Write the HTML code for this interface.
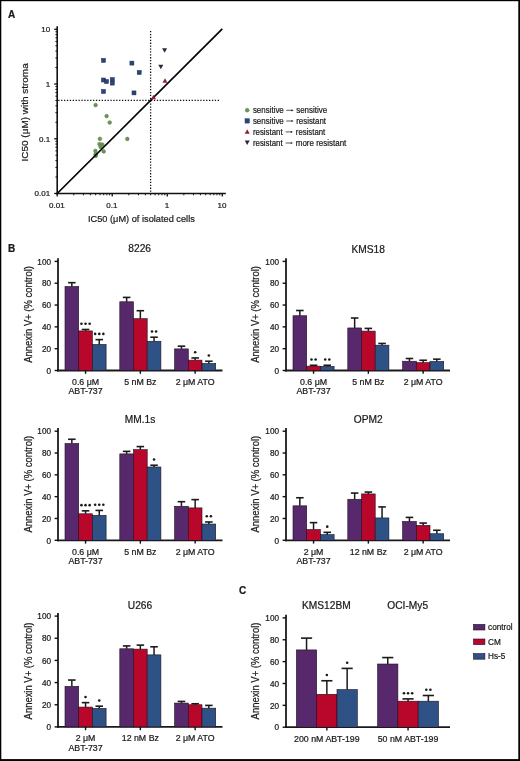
<!DOCTYPE html>
<html><head><meta charset="utf-8"><style>
html,body{margin:0;padding:0;background:#fff;}
#f{position:relative;width:520px;height:761px;overflow:hidden;background:#fff;}
#f svg{position:absolute;left:0;top:0;will-change:transform;}
#f svg text{font-family:"Liberation Sans", sans-serif;stroke:#1a1a1a;stroke-width:0.22px;}
</style></head><body>
<div id="f">
<svg width="520" height="761" viewBox="0 0 520 761">
<text x="7.9" y="17.5" font-size="10" font-weight="bold" fill="#1a1a1a">A</text>
<line x1="57.20" y1="26.30" x2="57.20" y2="194.50" stroke="#111" stroke-width="1.6"/>
<line x1="56.20" y1="193.50" x2="225.80" y2="193.50" stroke="#111" stroke-width="1.6"/>
<line x1="54.20" y1="193.50" x2="57.20" y2="193.50" stroke="#111" stroke-width="1.3"/>
<line x1="57.20" y1="193.50" x2="57.20" y2="196.50" stroke="#111" stroke-width="1.3"/>
<line x1="55.40" y1="177.02" x2="57.20" y2="177.02" stroke="#111" stroke-width="1.0"/>
<line x1="73.77" y1="193.50" x2="73.77" y2="195.30" stroke="#111" stroke-width="1.0"/>
<line x1="55.40" y1="167.39" x2="57.20" y2="167.39" stroke="#111" stroke-width="1.0"/>
<line x1="83.46" y1="193.50" x2="83.46" y2="195.30" stroke="#111" stroke-width="1.0"/>
<line x1="55.40" y1="160.55" x2="57.20" y2="160.55" stroke="#111" stroke-width="1.0"/>
<line x1="90.33" y1="193.50" x2="90.33" y2="195.30" stroke="#111" stroke-width="1.0"/>
<line x1="55.40" y1="155.25" x2="57.20" y2="155.25" stroke="#111" stroke-width="1.0"/>
<line x1="95.66" y1="193.50" x2="95.66" y2="195.30" stroke="#111" stroke-width="1.0"/>
<line x1="55.40" y1="150.91" x2="57.20" y2="150.91" stroke="#111" stroke-width="1.0"/>
<line x1="100.02" y1="193.50" x2="100.02" y2="195.30" stroke="#111" stroke-width="1.0"/>
<line x1="55.40" y1="147.25" x2="57.20" y2="147.25" stroke="#111" stroke-width="1.0"/>
<line x1="103.71" y1="193.50" x2="103.71" y2="195.30" stroke="#111" stroke-width="1.0"/>
<line x1="55.40" y1="144.07" x2="57.20" y2="144.07" stroke="#111" stroke-width="1.0"/>
<line x1="106.90" y1="193.50" x2="106.90" y2="195.30" stroke="#111" stroke-width="1.0"/>
<line x1="55.40" y1="141.27" x2="57.20" y2="141.27" stroke="#111" stroke-width="1.0"/>
<line x1="109.71" y1="193.50" x2="109.71" y2="195.30" stroke="#111" stroke-width="1.0"/>
<line x1="54.20" y1="138.77" x2="57.20" y2="138.77" stroke="#111" stroke-width="1.3"/>
<line x1="112.23" y1="193.50" x2="112.23" y2="196.50" stroke="#111" stroke-width="1.3"/>
<line x1="55.40" y1="122.29" x2="57.20" y2="122.29" stroke="#111" stroke-width="1.0"/>
<line x1="128.80" y1="193.50" x2="128.80" y2="195.30" stroke="#111" stroke-width="1.0"/>
<line x1="55.40" y1="112.66" x2="57.20" y2="112.66" stroke="#111" stroke-width="1.0"/>
<line x1="138.49" y1="193.50" x2="138.49" y2="195.30" stroke="#111" stroke-width="1.0"/>
<line x1="55.40" y1="105.82" x2="57.20" y2="105.82" stroke="#111" stroke-width="1.0"/>
<line x1="145.36" y1="193.50" x2="145.36" y2="195.30" stroke="#111" stroke-width="1.0"/>
<line x1="55.40" y1="100.52" x2="57.20" y2="100.52" stroke="#111" stroke-width="1.0"/>
<line x1="150.69" y1="193.50" x2="150.69" y2="195.30" stroke="#111" stroke-width="1.0"/>
<line x1="55.40" y1="96.18" x2="57.20" y2="96.18" stroke="#111" stroke-width="1.0"/>
<line x1="155.05" y1="193.50" x2="155.05" y2="195.30" stroke="#111" stroke-width="1.0"/>
<line x1="55.40" y1="92.52" x2="57.20" y2="92.52" stroke="#111" stroke-width="1.0"/>
<line x1="158.74" y1="193.50" x2="158.74" y2="195.30" stroke="#111" stroke-width="1.0"/>
<line x1="55.40" y1="89.34" x2="57.20" y2="89.34" stroke="#111" stroke-width="1.0"/>
<line x1="161.93" y1="193.50" x2="161.93" y2="195.30" stroke="#111" stroke-width="1.0"/>
<line x1="55.40" y1="86.54" x2="57.20" y2="86.54" stroke="#111" stroke-width="1.0"/>
<line x1="164.74" y1="193.50" x2="164.74" y2="195.30" stroke="#111" stroke-width="1.0"/>
<line x1="54.20" y1="84.04" x2="57.20" y2="84.04" stroke="#111" stroke-width="1.3"/>
<line x1="167.26" y1="193.50" x2="167.26" y2="196.50" stroke="#111" stroke-width="1.3"/>
<line x1="55.40" y1="67.56" x2="57.20" y2="67.56" stroke="#111" stroke-width="1.0"/>
<line x1="183.83" y1="193.50" x2="183.83" y2="195.30" stroke="#111" stroke-width="1.0"/>
<line x1="55.40" y1="57.93" x2="57.20" y2="57.93" stroke="#111" stroke-width="1.0"/>
<line x1="193.52" y1="193.50" x2="193.52" y2="195.30" stroke="#111" stroke-width="1.0"/>
<line x1="55.40" y1="51.09" x2="57.20" y2="51.09" stroke="#111" stroke-width="1.0"/>
<line x1="200.39" y1="193.50" x2="200.39" y2="195.30" stroke="#111" stroke-width="1.0"/>
<line x1="55.40" y1="45.79" x2="57.20" y2="45.79" stroke="#111" stroke-width="1.0"/>
<line x1="205.72" y1="193.50" x2="205.72" y2="195.30" stroke="#111" stroke-width="1.0"/>
<line x1="55.40" y1="41.45" x2="57.20" y2="41.45" stroke="#111" stroke-width="1.0"/>
<line x1="210.08" y1="193.50" x2="210.08" y2="195.30" stroke="#111" stroke-width="1.0"/>
<line x1="55.40" y1="37.79" x2="57.20" y2="37.79" stroke="#111" stroke-width="1.0"/>
<line x1="213.77" y1="193.50" x2="213.77" y2="195.30" stroke="#111" stroke-width="1.0"/>
<line x1="55.40" y1="34.61" x2="57.20" y2="34.61" stroke="#111" stroke-width="1.0"/>
<line x1="216.96" y1="193.50" x2="216.96" y2="195.30" stroke="#111" stroke-width="1.0"/>
<line x1="55.40" y1="31.81" x2="57.20" y2="31.81" stroke="#111" stroke-width="1.0"/>
<line x1="219.77" y1="193.50" x2="219.77" y2="195.30" stroke="#111" stroke-width="1.0"/>
<line x1="54.20" y1="29.31" x2="57.20" y2="29.31" stroke="#111" stroke-width="1.3"/>
<line x1="222.29" y1="193.50" x2="222.29" y2="196.50" stroke="#111" stroke-width="1.3"/>
<text x="50.1" y="196.4" font-size="8.0" text-anchor="end" fill="#1a1a1a">0.01</text>
<text x="56.900000000000006" y="207.6" font-size="8.0" text-anchor="middle" fill="#1a1a1a">0.01</text>
<text x="50.1" y="141.67000000000002" font-size="8.0" text-anchor="end" fill="#1a1a1a">0.1</text>
<text x="111.93" y="207.6" font-size="8.0" text-anchor="middle" fill="#1a1a1a">0.1</text>
<text x="50.1" y="86.94000000000001" font-size="8.0" text-anchor="end" fill="#1a1a1a">1</text>
<text x="166.95999999999998" y="207.6" font-size="8.0" text-anchor="middle" fill="#1a1a1a">1</text>
<text x="50.1" y="32.21" font-size="8.0" text-anchor="end" fill="#1a1a1a">10</text>
<text x="221.99" y="207.6" font-size="8.0" text-anchor="middle" fill="#1a1a1a">10</text>
<text transform="translate(28.0,112.4) rotate(-90)" x="0" y="0" font-size="9.6" text-anchor="middle" textLength="98.2" lengthAdjust="spacingAndGlyphs" fill="#1a1a1a">IC50 (μM) with stroma</text>
<text x="141.4" y="222.3" font-size="9.6" text-anchor="middle" textLength="106.8" lengthAdjust="spacingAndGlyphs" fill="#1a1a1a">IC50 (μM) of isolated cells</text>
<line x1="58.2" y1="100.3" x2="219" y2="100.3" stroke="#111" stroke-width="1.3" stroke-dasharray="1.3 1.6"/>
<line x1="150.6" y1="31" x2="150.6" y2="192.5" stroke="#111" stroke-width="1.3" stroke-dasharray="1.3 1.6"/>
<circle cx="95.60" cy="105.10" r="1.85" fill="#6c9753" stroke="#557a45" stroke-width="0.5"/>
<circle cx="106.60" cy="116.10" r="1.85" fill="#6c9753" stroke="#557a45" stroke-width="0.5"/>
<circle cx="109.70" cy="122.50" r="1.85" fill="#6c9753" stroke="#557a45" stroke-width="0.5"/>
<circle cx="99.90" cy="138.80" r="1.85" fill="#6c9753" stroke="#557a45" stroke-width="0.5"/>
<circle cx="127.30" cy="138.90" r="1.85" fill="#6c9753" stroke="#557a45" stroke-width="0.5"/>
<circle cx="99.50" cy="144.00" r="1.85" fill="#6c9753" stroke="#557a45" stroke-width="0.5"/>
<circle cx="102.30" cy="144.50" r="1.85" fill="#6c9753" stroke="#557a45" stroke-width="0.5"/>
<circle cx="100.50" cy="146.80" r="1.85" fill="#6c9753" stroke="#557a45" stroke-width="0.5"/>
<circle cx="103.70" cy="151.40" r="1.85" fill="#6c9753" stroke="#557a45" stroke-width="0.5"/>
<circle cx="95.40" cy="150.90" r="1.85" fill="#6c9753" stroke="#557a45" stroke-width="0.5"/>
<circle cx="95.60" cy="154.20" r="1.85" fill="#6c9753" stroke="#557a45" stroke-width="0.5"/>
<circle cx="95.80" cy="155.80" r="1.85" fill="#6c9753" stroke="#557a45" stroke-width="0.5"/>
<line x1="57.20" y1="193.50" x2="222.30" y2="28.80" stroke="#000" stroke-width="1.7"/>
<rect x="101.50" y="58.40" width="4.0" height="4.0" fill="#2a4578" stroke="#1f2d55" stroke-width="0.5"/>
<rect x="129.90" y="61.10" width="4.0" height="4.0" fill="#2a4578" stroke="#1f2d55" stroke-width="0.5"/>
<rect x="137.20" y="70.50" width="4.0" height="4.0" fill="#2a4578" stroke="#1f2d55" stroke-width="0.5"/>
<rect x="101.50" y="78.00" width="4.0" height="4.0" fill="#2a4578" stroke="#1f2d55" stroke-width="0.5"/>
<rect x="104.50" y="79.50" width="4.0" height="4.0" fill="#2a4578" stroke="#1f2d55" stroke-width="0.5"/>
<rect x="110.30" y="77.60" width="4.0" height="4.0" fill="#2a4578" stroke="#1f2d55" stroke-width="0.5"/>
<rect x="110.30" y="81.10" width="4.0" height="4.0" fill="#2a4578" stroke="#1f2d55" stroke-width="0.5"/>
<rect x="101.50" y="89.50" width="4.0" height="4.0" fill="#2a4578" stroke="#1f2d55" stroke-width="0.5"/>
<rect x="132.00" y="90.90" width="4.0" height="4.0" fill="#2a4578" stroke="#1f2d55" stroke-width="0.5"/>
<polygon points="162.10,48.25 167.10,48.25 164.60,52.75" fill="#32233f"/>
<polygon points="158.30,64.65 163.30,64.65 160.80,69.15" fill="#32233f"/>
<polygon points="162.50,82.65 167.50,82.65 165.00,78.15" fill="#921a3a"/>
<polygon points="151.00,99.25 156.00,99.25 153.50,94.75" fill="#921a3a"/>
<text x="252.9" y="112.8" font-size="8.7" textLength="30.9" lengthAdjust="spacingAndGlyphs" fill="#1a1a1a">sensitive</text>
<text x="296.2" y="112.8" font-size="8.7" textLength="30.9" lengthAdjust="spacingAndGlyphs" fill="#1a1a1a">sensitive</text>
<line x1="286.30" y1="110.30" x2="292.30" y2="110.30" stroke="#222" stroke-width="0.75"/>
<polygon points="291.50,109.20 293.60,110.30 291.50,111.40" fill="#222"/>
<text x="252.9" y="123.6" font-size="8.7" textLength="30.9" lengthAdjust="spacingAndGlyphs" fill="#1a1a1a">sensitive</text>
<text x="296.2" y="123.6" font-size="8.7" textLength="29.8" lengthAdjust="spacingAndGlyphs" fill="#1a1a1a">resistant</text>
<line x1="286.30" y1="121.00" x2="292.30" y2="121.00" stroke="#222" stroke-width="0.75"/>
<polygon points="291.50,119.90 293.60,121.00 291.50,122.10" fill="#222"/>
<text x="252.9" y="134.7" font-size="8.7" textLength="29.8" lengthAdjust="spacingAndGlyphs" fill="#1a1a1a">resistant</text>
<text x="295.8" y="134.7" font-size="8.7" textLength="29.4" lengthAdjust="spacingAndGlyphs" fill="#1a1a1a">resistant</text>
<line x1="285.60" y1="131.90" x2="291.60" y2="131.90" stroke="#222" stroke-width="0.75"/>
<polygon points="290.80,130.80 292.90,131.90 290.80,133.00" fill="#222"/>
<text x="252.9" y="145.7" font-size="8.7" textLength="29.8" lengthAdjust="spacingAndGlyphs" fill="#1a1a1a">resistant</text>
<text x="295.8" y="145.7" font-size="8.7" textLength="50.5" lengthAdjust="spacingAndGlyphs" fill="#1a1a1a">more resistant</text>
<line x1="285.60" y1="143.00" x2="291.60" y2="143.00" stroke="#222" stroke-width="0.75"/>
<polygon points="290.80,141.90 292.90,143.00 290.80,144.10" fill="#222"/>
<circle cx="247.20" cy="110.20" r="1.9" fill="#6c9753" stroke="#557a45" stroke-width="0.5"/>
<rect x="245.0" y="118.7" width="4.4" height="4.4" fill="#2a4578" stroke="#1f2d55" stroke-width="0.4"/>
<polygon points="244.70,133.85 249.70,133.85 247.20,129.35" fill="#921a3a"/>
<polygon points="244.70,140.45 249.70,140.45 247.20,144.95" fill="#32233f"/>
<text x="7.9" y="252.1" font-size="10" font-weight="bold" fill="#1a1a1a">B</text>
<text x="238.9" y="593.6" font-size="10" font-weight="bold" fill="#1a1a1a">C</text>
<line x1="58.00" y1="258.30" x2="58.00" y2="371.40" stroke="#1a1a1a" stroke-width="1.8"/>
<line x1="57.10" y1="370.50" x2="222.50" y2="370.50" stroke="#1a1a1a" stroke-width="1.8"/>
<line x1="54.60" y1="370.50" x2="58.00" y2="370.50" stroke="#111" stroke-width="1.4"/>
<text x="51.0" y="373.7" font-size="8.2" text-anchor="end" fill="#1a1a1a">0</text>
<line x1="54.60" y1="348.68" x2="58.00" y2="348.68" stroke="#111" stroke-width="1.4"/>
<text x="51.0" y="351.88" font-size="8.2" text-anchor="end" fill="#1a1a1a">20</text>
<line x1="54.60" y1="326.86" x2="58.00" y2="326.86" stroke="#111" stroke-width="1.4"/>
<text x="51.0" y="330.06" font-size="8.2" text-anchor="end" fill="#1a1a1a">40</text>
<line x1="54.60" y1="305.04" x2="58.00" y2="305.04" stroke="#111" stroke-width="1.4"/>
<text x="51.0" y="308.24" font-size="8.2" text-anchor="end" fill="#1a1a1a">60</text>
<line x1="54.60" y1="283.22" x2="58.00" y2="283.22" stroke="#111" stroke-width="1.4"/>
<text x="51.0" y="286.42" font-size="8.2" text-anchor="end" fill="#1a1a1a">80</text>
<line x1="54.60" y1="261.40" x2="58.00" y2="261.40" stroke="#111" stroke-width="1.4"/>
<text x="51.0" y="264.59999999999997" font-size="8.2" text-anchor="end" fill="#1a1a1a">100</text>
<rect x="65.00" y="286.49" width="13.70" height="84.01" fill="#57286b" stroke="#1c1020" stroke-width="0.6"/>
<line x1="71.85" y1="286.49" x2="71.85" y2="282.67" stroke="#1a1a1a" stroke-width="1.5"/>
<line x1="68.08" y1="282.67" x2="75.62" y2="282.67" stroke="#1a1a1a" stroke-width="1.6"/>
<rect x="78.70" y="330.90" width="13.70" height="39.60" fill="#b8072b" stroke="#1c1020" stroke-width="0.6"/>
<line x1="85.55" y1="330.90" x2="85.55" y2="329.48" stroke="#1a1a1a" stroke-width="1.5"/>
<line x1="81.78" y1="329.48" x2="89.32" y2="329.48" stroke="#1a1a1a" stroke-width="1.6"/>
<circle cx="81.45" cy="323.78" r="1.3" fill="#1a1a1a"/>
<circle cx="85.55" cy="323.78" r="1.3" fill="#1a1a1a"/>
<circle cx="89.65" cy="323.78" r="1.3" fill="#1a1a1a"/>
<rect x="92.40" y="344.43" width="13.70" height="26.07" fill="#2f5286" stroke="#1c1020" stroke-width="0.6"/>
<line x1="99.25" y1="344.43" x2="99.25" y2="339.62" stroke="#1a1a1a" stroke-width="1.5"/>
<line x1="95.48" y1="339.62" x2="103.02" y2="339.62" stroke="#1a1a1a" stroke-width="1.6"/>
<circle cx="95.15" cy="333.92" r="1.3" fill="#1a1a1a"/>
<circle cx="99.25" cy="333.92" r="1.3" fill="#1a1a1a"/>
<circle cx="103.35" cy="333.92" r="1.3" fill="#1a1a1a"/>
<line x1="85.55" y1="370.50" x2="85.55" y2="373.80" stroke="#111" stroke-width="1.4"/>
<rect x="119.80" y="301.77" width="13.70" height="68.73" fill="#57286b" stroke="#1c1020" stroke-width="0.6"/>
<line x1="126.65" y1="301.77" x2="126.65" y2="297.40" stroke="#1a1a1a" stroke-width="1.5"/>
<line x1="122.88" y1="297.40" x2="130.42" y2="297.40" stroke="#1a1a1a" stroke-width="1.6"/>
<rect x="133.50" y="318.68" width="13.70" height="51.82" fill="#b8072b" stroke="#1c1020" stroke-width="0.6"/>
<line x1="140.35" y1="318.68" x2="140.35" y2="310.71" stroke="#1a1a1a" stroke-width="1.5"/>
<line x1="136.58" y1="310.71" x2="144.12" y2="310.71" stroke="#1a1a1a" stroke-width="1.6"/>
<rect x="147.20" y="341.26" width="13.70" height="29.24" fill="#2f5286" stroke="#1c1020" stroke-width="0.6"/>
<line x1="154.05" y1="341.26" x2="154.05" y2="337.22" stroke="#1a1a1a" stroke-width="1.5"/>
<line x1="150.28" y1="337.22" x2="157.82" y2="337.22" stroke="#1a1a1a" stroke-width="1.6"/>
<circle cx="152.00" cy="331.52" r="1.3" fill="#1a1a1a"/>
<circle cx="156.10" cy="331.52" r="1.3" fill="#1a1a1a"/>
<line x1="140.35" y1="370.50" x2="140.35" y2="373.80" stroke="#111" stroke-width="1.4"/>
<rect x="174.60" y="348.90" width="13.70" height="21.60" fill="#57286b" stroke="#1c1020" stroke-width="0.6"/>
<line x1="181.45" y1="348.90" x2="181.45" y2="346.17" stroke="#1a1a1a" stroke-width="1.5"/>
<line x1="177.68" y1="346.17" x2="185.22" y2="346.17" stroke="#1a1a1a" stroke-width="1.6"/>
<rect x="188.30" y="360.14" width="13.70" height="10.36" fill="#b8072b" stroke="#1c1020" stroke-width="0.6"/>
<line x1="195.15" y1="360.14" x2="195.15" y2="357.95" stroke="#1a1a1a" stroke-width="1.5"/>
<line x1="191.38" y1="357.95" x2="198.92" y2="357.95" stroke="#1a1a1a" stroke-width="1.6"/>
<circle cx="195.15" cy="352.25" r="1.3" fill="#1a1a1a"/>
<rect x="202.00" y="363.41" width="13.70" height="7.09" fill="#2f5286" stroke="#1c1020" stroke-width="0.6"/>
<line x1="208.85" y1="363.41" x2="208.85" y2="361.23" stroke="#1a1a1a" stroke-width="1.5"/>
<line x1="205.08" y1="361.23" x2="212.62" y2="361.23" stroke="#1a1a1a" stroke-width="1.6"/>
<circle cx="208.85" cy="355.53" r="1.3" fill="#1a1a1a"/>
<line x1="195.15" y1="370.50" x2="195.15" y2="373.80" stroke="#111" stroke-width="1.4"/>
<text x="85.55" y="384.8" font-size="8.8" text-anchor="middle" fill="#1a1a1a">0.6 μM</text>
<text x="85.55" y="394.4" font-size="8.8" text-anchor="middle" fill="#1a1a1a">ABT-737</text>
<text x="140.35" y="384.8" font-size="8.8" text-anchor="middle" fill="#1a1a1a">5 nM Bz</text>
<text x="195.14999999999998" y="384.8" font-size="8.8" text-anchor="middle" fill="#1a1a1a">2 μM ATO</text>
<text x="139.7" y="252.4" font-size="10.2" text-anchor="middle" fill="#1a1a1a">8226</text>
<text transform="translate(32.1,314.4) rotate(-90)" x="0" y="0" font-size="10.2" text-anchor="middle" textLength="96.8" lengthAdjust="spacingAndGlyphs" fill="#1a1a1a">Annexin V+ (% control)</text>
<line x1="286.00" y1="258.30" x2="286.00" y2="371.40" stroke="#1a1a1a" stroke-width="1.8"/>
<line x1="285.10" y1="370.50" x2="450.00" y2="370.50" stroke="#1a1a1a" stroke-width="1.8"/>
<line x1="282.60" y1="370.50" x2="286.00" y2="370.50" stroke="#111" stroke-width="1.4"/>
<text x="279.0" y="373.7" font-size="8.2" text-anchor="end" fill="#1a1a1a">0</text>
<line x1="282.60" y1="348.68" x2="286.00" y2="348.68" stroke="#111" stroke-width="1.4"/>
<text x="279.0" y="351.88" font-size="8.2" text-anchor="end" fill="#1a1a1a">20</text>
<line x1="282.60" y1="326.86" x2="286.00" y2="326.86" stroke="#111" stroke-width="1.4"/>
<text x="279.0" y="330.06" font-size="8.2" text-anchor="end" fill="#1a1a1a">40</text>
<line x1="282.60" y1="305.04" x2="286.00" y2="305.04" stroke="#111" stroke-width="1.4"/>
<text x="279.0" y="308.24" font-size="8.2" text-anchor="end" fill="#1a1a1a">60</text>
<line x1="282.60" y1="283.22" x2="286.00" y2="283.22" stroke="#111" stroke-width="1.4"/>
<text x="279.0" y="286.42" font-size="8.2" text-anchor="end" fill="#1a1a1a">80</text>
<line x1="282.60" y1="261.40" x2="286.00" y2="261.40" stroke="#111" stroke-width="1.4"/>
<text x="279.0" y="264.59999999999997" font-size="8.2" text-anchor="end" fill="#1a1a1a">100</text>
<rect x="293.00" y="315.73" width="13.70" height="54.77" fill="#57286b" stroke="#1c1020" stroke-width="0.6"/>
<line x1="299.85" y1="315.73" x2="299.85" y2="310.50" stroke="#1a1a1a" stroke-width="1.5"/>
<line x1="296.08" y1="310.50" x2="303.62" y2="310.50" stroke="#1a1a1a" stroke-width="1.6"/>
<rect x="306.70" y="366.14" width="13.70" height="4.36" fill="#b8072b" stroke="#1c1020" stroke-width="0.6"/>
<line x1="313.55" y1="366.14" x2="313.55" y2="365.26" stroke="#1a1a1a" stroke-width="1.5"/>
<line x1="309.78" y1="365.26" x2="317.32" y2="365.26" stroke="#1a1a1a" stroke-width="1.6"/>
<circle cx="311.50" cy="359.56" r="1.3" fill="#1a1a1a"/>
<circle cx="315.60" cy="359.56" r="1.3" fill="#1a1a1a"/>
<rect x="320.40" y="366.35" width="13.70" height="4.15" fill="#2f5286" stroke="#1c1020" stroke-width="0.6"/>
<line x1="327.25" y1="366.35" x2="327.25" y2="365.26" stroke="#1a1a1a" stroke-width="1.5"/>
<line x1="323.48" y1="365.26" x2="331.02" y2="365.26" stroke="#1a1a1a" stroke-width="1.6"/>
<circle cx="325.20" cy="359.56" r="1.3" fill="#1a1a1a"/>
<circle cx="329.30" cy="359.56" r="1.3" fill="#1a1a1a"/>
<line x1="313.55" y1="370.50" x2="313.55" y2="373.80" stroke="#111" stroke-width="1.4"/>
<rect x="347.80" y="327.95" width="13.70" height="42.55" fill="#57286b" stroke="#1c1020" stroke-width="0.6"/>
<line x1="354.65" y1="327.95" x2="354.65" y2="318.02" stroke="#1a1a1a" stroke-width="1.5"/>
<line x1="350.88" y1="318.02" x2="358.42" y2="318.02" stroke="#1a1a1a" stroke-width="1.6"/>
<rect x="361.50" y="331.11" width="13.70" height="39.39" fill="#b8072b" stroke="#1c1020" stroke-width="0.6"/>
<line x1="368.35" y1="331.11" x2="368.35" y2="328.39" stroke="#1a1a1a" stroke-width="1.5"/>
<line x1="364.58" y1="328.39" x2="372.12" y2="328.39" stroke="#1a1a1a" stroke-width="1.6"/>
<rect x="375.20" y="345.19" width="13.70" height="25.31" fill="#2f5286" stroke="#1c1020" stroke-width="0.6"/>
<line x1="382.05" y1="345.19" x2="382.05" y2="343.44" stroke="#1a1a1a" stroke-width="1.5"/>
<line x1="378.28" y1="343.44" x2="385.82" y2="343.44" stroke="#1a1a1a" stroke-width="1.6"/>
<line x1="368.35" y1="370.50" x2="368.35" y2="373.80" stroke="#111" stroke-width="1.4"/>
<rect x="402.60" y="361.23" width="13.70" height="9.27" fill="#57286b" stroke="#1c1020" stroke-width="0.6"/>
<line x1="409.45" y1="361.23" x2="409.45" y2="358.50" stroke="#1a1a1a" stroke-width="1.5"/>
<line x1="405.68" y1="358.50" x2="413.22" y2="358.50" stroke="#1a1a1a" stroke-width="1.6"/>
<rect x="416.30" y="362.64" width="13.70" height="7.86" fill="#b8072b" stroke="#1c1020" stroke-width="0.6"/>
<line x1="423.15" y1="362.64" x2="423.15" y2="360.24" stroke="#1a1a1a" stroke-width="1.5"/>
<line x1="419.38" y1="360.24" x2="426.92" y2="360.24" stroke="#1a1a1a" stroke-width="1.6"/>
<rect x="430.00" y="361.44" width="13.70" height="9.06" fill="#2f5286" stroke="#1c1020" stroke-width="0.6"/>
<line x1="436.85" y1="361.44" x2="436.85" y2="359.15" stroke="#1a1a1a" stroke-width="1.5"/>
<line x1="433.08" y1="359.15" x2="440.62" y2="359.15" stroke="#1a1a1a" stroke-width="1.6"/>
<line x1="423.15" y1="370.50" x2="423.15" y2="373.80" stroke="#111" stroke-width="1.4"/>
<text x="313.55" y="384.8" font-size="8.8" text-anchor="middle" fill="#1a1a1a">0.6 μM</text>
<text x="313.55" y="394.4" font-size="8.8" text-anchor="middle" fill="#1a1a1a">ABT-737</text>
<text x="368.35" y="384.8" font-size="8.8" text-anchor="middle" fill="#1a1a1a">5 nM Bz</text>
<text x="423.15000000000003" y="384.8" font-size="8.8" text-anchor="middle" fill="#1a1a1a">2 μM ATO</text>
<text x="368.2" y="252.5" font-size="10.2" text-anchor="middle" fill="#1a1a1a">KMS18</text>
<text transform="translate(259.2,314.4) rotate(-90)" x="0" y="0" font-size="10.2" text-anchor="middle" textLength="96.8" lengthAdjust="spacingAndGlyphs" fill="#1a1a1a">Annexin V+ (% control)</text>
<line x1="58.00" y1="428.10" x2="58.00" y2="541.20" stroke="#1a1a1a" stroke-width="1.8"/>
<line x1="57.10" y1="540.30" x2="222.50" y2="540.30" stroke="#1a1a1a" stroke-width="1.8"/>
<line x1="54.60" y1="540.30" x2="58.00" y2="540.30" stroke="#111" stroke-width="1.4"/>
<text x="51.0" y="543.5" font-size="8.2" text-anchor="end" fill="#1a1a1a">0</text>
<line x1="54.60" y1="518.48" x2="58.00" y2="518.48" stroke="#111" stroke-width="1.4"/>
<text x="51.0" y="521.68" font-size="8.2" text-anchor="end" fill="#1a1a1a">20</text>
<line x1="54.60" y1="496.66" x2="58.00" y2="496.66" stroke="#111" stroke-width="1.4"/>
<text x="51.0" y="499.85999999999996" font-size="8.2" text-anchor="end" fill="#1a1a1a">40</text>
<line x1="54.60" y1="474.84" x2="58.00" y2="474.84" stroke="#111" stroke-width="1.4"/>
<text x="51.0" y="478.03999999999996" font-size="8.2" text-anchor="end" fill="#1a1a1a">60</text>
<line x1="54.60" y1="453.02" x2="58.00" y2="453.02" stroke="#111" stroke-width="1.4"/>
<text x="51.0" y="456.21999999999997" font-size="8.2" text-anchor="end" fill="#1a1a1a">80</text>
<line x1="54.60" y1="431.20" x2="58.00" y2="431.20" stroke="#111" stroke-width="1.4"/>
<text x="51.0" y="434.3999999999999" font-size="8.2" text-anchor="end" fill="#1a1a1a">100</text>
<rect x="65.00" y="443.53" width="13.70" height="96.77" fill="#57286b" stroke="#1c1020" stroke-width="0.6"/>
<line x1="71.85" y1="443.53" x2="71.85" y2="439.27" stroke="#1a1a1a" stroke-width="1.5"/>
<line x1="68.08" y1="439.27" x2="75.62" y2="439.27" stroke="#1a1a1a" stroke-width="1.6"/>
<rect x="78.70" y="513.79" width="13.70" height="26.51" fill="#b8072b" stroke="#1c1020" stroke-width="0.6"/>
<line x1="85.55" y1="513.79" x2="85.55" y2="510.84" stroke="#1a1a1a" stroke-width="1.5"/>
<line x1="81.78" y1="510.84" x2="89.32" y2="510.84" stroke="#1a1a1a" stroke-width="1.6"/>
<circle cx="81.45" cy="505.14" r="1.3" fill="#1a1a1a"/>
<circle cx="85.55" cy="505.14" r="1.3" fill="#1a1a1a"/>
<circle cx="89.65" cy="505.14" r="1.3" fill="#1a1a1a"/>
<rect x="92.40" y="515.32" width="13.70" height="24.98" fill="#2f5286" stroke="#1c1020" stroke-width="0.6"/>
<line x1="99.25" y1="515.32" x2="99.25" y2="510.41" stroke="#1a1a1a" stroke-width="1.5"/>
<line x1="95.48" y1="510.41" x2="103.02" y2="510.41" stroke="#1a1a1a" stroke-width="1.6"/>
<circle cx="95.15" cy="504.71" r="1.3" fill="#1a1a1a"/>
<circle cx="99.25" cy="504.71" r="1.3" fill="#1a1a1a"/>
<circle cx="103.35" cy="504.71" r="1.3" fill="#1a1a1a"/>
<line x1="85.55" y1="540.30" x2="85.55" y2="543.60" stroke="#111" stroke-width="1.4"/>
<rect x="119.80" y="453.89" width="13.70" height="86.41" fill="#57286b" stroke="#1c1020" stroke-width="0.6"/>
<line x1="126.65" y1="453.89" x2="126.65" y2="451.38" stroke="#1a1a1a" stroke-width="1.5"/>
<line x1="122.88" y1="451.38" x2="130.42" y2="451.38" stroke="#1a1a1a" stroke-width="1.6"/>
<rect x="133.50" y="449.64" width="13.70" height="90.66" fill="#b8072b" stroke="#1c1020" stroke-width="0.6"/>
<line x1="140.35" y1="449.64" x2="140.35" y2="446.58" stroke="#1a1a1a" stroke-width="1.5"/>
<line x1="136.58" y1="446.58" x2="144.12" y2="446.58" stroke="#1a1a1a" stroke-width="1.6"/>
<rect x="147.20" y="466.98" width="13.70" height="73.32" fill="#2f5286" stroke="#1c1020" stroke-width="0.6"/>
<line x1="154.05" y1="466.98" x2="154.05" y2="465.24" stroke="#1a1a1a" stroke-width="1.5"/>
<line x1="150.28" y1="465.24" x2="157.82" y2="465.24" stroke="#1a1a1a" stroke-width="1.6"/>
<circle cx="154.05" cy="459.54" r="1.3" fill="#1a1a1a"/>
<line x1="140.35" y1="540.30" x2="140.35" y2="543.60" stroke="#111" stroke-width="1.4"/>
<rect x="174.60" y="506.26" width="13.70" height="34.04" fill="#57286b" stroke="#1c1020" stroke-width="0.6"/>
<line x1="181.45" y1="506.26" x2="181.45" y2="501.68" stroke="#1a1a1a" stroke-width="1.5"/>
<line x1="177.68" y1="501.68" x2="185.22" y2="501.68" stroke="#1a1a1a" stroke-width="1.6"/>
<rect x="188.30" y="507.90" width="13.70" height="32.40" fill="#b8072b" stroke="#1c1020" stroke-width="0.6"/>
<line x1="195.15" y1="507.90" x2="195.15" y2="499.61" stroke="#1a1a1a" stroke-width="1.5"/>
<line x1="191.38" y1="499.61" x2="198.92" y2="499.61" stroke="#1a1a1a" stroke-width="1.6"/>
<rect x="202.00" y="524.04" width="13.70" height="16.26" fill="#2f5286" stroke="#1c1020" stroke-width="0.6"/>
<line x1="208.85" y1="524.04" x2="208.85" y2="521.97" stroke="#1a1a1a" stroke-width="1.5"/>
<line x1="205.08" y1="521.97" x2="212.62" y2="521.97" stroke="#1a1a1a" stroke-width="1.6"/>
<circle cx="206.80" cy="516.27" r="1.3" fill="#1a1a1a"/>
<circle cx="210.90" cy="516.27" r="1.3" fill="#1a1a1a"/>
<line x1="195.15" y1="540.30" x2="195.15" y2="543.60" stroke="#111" stroke-width="1.4"/>
<text x="85.55" y="554.5999999999999" font-size="8.8" text-anchor="middle" fill="#1a1a1a">0.6 μM</text>
<text x="85.55" y="564.1999999999999" font-size="8.8" text-anchor="middle" fill="#1a1a1a">ABT-737</text>
<text x="140.35" y="554.5999999999999" font-size="8.8" text-anchor="middle" fill="#1a1a1a">5 nM Bz</text>
<text x="195.14999999999998" y="554.5999999999999" font-size="8.8" text-anchor="middle" fill="#1a1a1a">2 μM ATO</text>
<text x="140" y="422.5" font-size="10.2" text-anchor="middle" fill="#1a1a1a">MM.1s</text>
<text transform="translate(32.1,484.2) rotate(-90)" x="0" y="0" font-size="10.2" text-anchor="middle" textLength="96.8" lengthAdjust="spacingAndGlyphs" fill="#1a1a1a">Annexin V+ (% control)</text>
<line x1="286.00" y1="428.10" x2="286.00" y2="541.20" stroke="#1a1a1a" stroke-width="1.8"/>
<line x1="285.10" y1="540.30" x2="450.00" y2="540.30" stroke="#1a1a1a" stroke-width="1.8"/>
<line x1="282.60" y1="540.30" x2="286.00" y2="540.30" stroke="#111" stroke-width="1.4"/>
<text x="279.0" y="543.5" font-size="8.2" text-anchor="end" fill="#1a1a1a">0</text>
<line x1="282.60" y1="518.48" x2="286.00" y2="518.48" stroke="#111" stroke-width="1.4"/>
<text x="279.0" y="521.68" font-size="8.2" text-anchor="end" fill="#1a1a1a">20</text>
<line x1="282.60" y1="496.66" x2="286.00" y2="496.66" stroke="#111" stroke-width="1.4"/>
<text x="279.0" y="499.85999999999996" font-size="8.2" text-anchor="end" fill="#1a1a1a">40</text>
<line x1="282.60" y1="474.84" x2="286.00" y2="474.84" stroke="#111" stroke-width="1.4"/>
<text x="279.0" y="478.03999999999996" font-size="8.2" text-anchor="end" fill="#1a1a1a">60</text>
<line x1="282.60" y1="453.02" x2="286.00" y2="453.02" stroke="#111" stroke-width="1.4"/>
<text x="279.0" y="456.21999999999997" font-size="8.2" text-anchor="end" fill="#1a1a1a">80</text>
<line x1="282.60" y1="431.20" x2="286.00" y2="431.20" stroke="#111" stroke-width="1.4"/>
<text x="279.0" y="434.3999999999999" font-size="8.2" text-anchor="end" fill="#1a1a1a">100</text>
<rect x="293.00" y="505.82" width="13.70" height="34.48" fill="#57286b" stroke="#1c1020" stroke-width="0.6"/>
<line x1="299.85" y1="505.82" x2="299.85" y2="497.75" stroke="#1a1a1a" stroke-width="1.5"/>
<line x1="296.08" y1="497.75" x2="303.62" y2="497.75" stroke="#1a1a1a" stroke-width="1.6"/>
<rect x="306.70" y="529.50" width="13.70" height="10.80" fill="#b8072b" stroke="#1c1020" stroke-width="0.6"/>
<line x1="313.55" y1="529.50" x2="313.55" y2="522.63" stroke="#1a1a1a" stroke-width="1.5"/>
<line x1="309.78" y1="522.63" x2="317.32" y2="522.63" stroke="#1a1a1a" stroke-width="1.6"/>
<rect x="320.40" y="534.63" width="13.70" height="5.67" fill="#2f5286" stroke="#1c1020" stroke-width="0.6"/>
<line x1="327.25" y1="534.63" x2="327.25" y2="532.34" stroke="#1a1a1a" stroke-width="1.5"/>
<line x1="323.48" y1="532.34" x2="331.02" y2="532.34" stroke="#1a1a1a" stroke-width="1.6"/>
<circle cx="327.25" cy="526.64" r="1.3" fill="#1a1a1a"/>
<line x1="313.55" y1="540.30" x2="313.55" y2="543.60" stroke="#111" stroke-width="1.4"/>
<rect x="347.80" y="499.28" width="13.70" height="41.02" fill="#57286b" stroke="#1c1020" stroke-width="0.6"/>
<line x1="354.65" y1="499.28" x2="354.65" y2="493.06" stroke="#1a1a1a" stroke-width="1.5"/>
<line x1="350.88" y1="493.06" x2="358.42" y2="493.06" stroke="#1a1a1a" stroke-width="1.6"/>
<rect x="361.50" y="493.93" width="13.70" height="46.37" fill="#b8072b" stroke="#1c1020" stroke-width="0.6"/>
<line x1="368.35" y1="493.93" x2="368.35" y2="492.08" stroke="#1a1a1a" stroke-width="1.5"/>
<line x1="364.58" y1="492.08" x2="372.12" y2="492.08" stroke="#1a1a1a" stroke-width="1.6"/>
<rect x="375.20" y="517.93" width="13.70" height="22.37" fill="#2f5286" stroke="#1c1020" stroke-width="0.6"/>
<line x1="382.05" y1="517.93" x2="382.05" y2="506.92" stroke="#1a1a1a" stroke-width="1.5"/>
<line x1="378.28" y1="506.92" x2="385.82" y2="506.92" stroke="#1a1a1a" stroke-width="1.6"/>
<line x1="368.35" y1="540.30" x2="368.35" y2="543.60" stroke="#111" stroke-width="1.4"/>
<rect x="402.60" y="521.43" width="13.70" height="18.87" fill="#57286b" stroke="#1c1020" stroke-width="0.6"/>
<line x1="409.45" y1="521.43" x2="409.45" y2="517.39" stroke="#1a1a1a" stroke-width="1.5"/>
<line x1="405.68" y1="517.39" x2="413.22" y2="517.39" stroke="#1a1a1a" stroke-width="1.6"/>
<rect x="416.30" y="525.35" width="13.70" height="14.95" fill="#b8072b" stroke="#1c1020" stroke-width="0.6"/>
<line x1="423.15" y1="525.35" x2="423.15" y2="523.06" stroke="#1a1a1a" stroke-width="1.5"/>
<line x1="419.38" y1="523.06" x2="426.92" y2="523.06" stroke="#1a1a1a" stroke-width="1.6"/>
<rect x="430.00" y="533.75" width="13.70" height="6.55" fill="#2f5286" stroke="#1c1020" stroke-width="0.6"/>
<line x1="436.85" y1="533.75" x2="436.85" y2="530.26" stroke="#1a1a1a" stroke-width="1.5"/>
<line x1="433.08" y1="530.26" x2="440.62" y2="530.26" stroke="#1a1a1a" stroke-width="1.6"/>
<line x1="423.15" y1="540.30" x2="423.15" y2="543.60" stroke="#111" stroke-width="1.4"/>
<text x="313.55" y="554.5999999999999" font-size="8.8" text-anchor="middle" fill="#1a1a1a">2 μM</text>
<text x="313.55" y="564.1999999999999" font-size="8.8" text-anchor="middle" fill="#1a1a1a">ABT-737</text>
<text x="368.35" y="554.5999999999999" font-size="8.8" text-anchor="middle" fill="#1a1a1a">12 nM Bz</text>
<text x="423.15000000000003" y="554.5999999999999" font-size="8.8" text-anchor="middle" fill="#1a1a1a">2 μM ATO</text>
<text x="368.2" y="422.5" font-size="10.2" text-anchor="middle" fill="#1a1a1a">OPM2</text>
<text transform="translate(259.2,484.2) rotate(-90)" x="0" y="0" font-size="10.2" text-anchor="middle" textLength="96.8" lengthAdjust="spacingAndGlyphs" fill="#1a1a1a">Annexin V+ (% control)</text>
<line x1="58.00" y1="613.00" x2="58.00" y2="727.80" stroke="#1a1a1a" stroke-width="1.8"/>
<line x1="57.10" y1="726.90" x2="222.50" y2="726.90" stroke="#1a1a1a" stroke-width="1.8"/>
<line x1="54.60" y1="726.90" x2="58.00" y2="726.90" stroke="#111" stroke-width="1.4"/>
<text x="51.0" y="730.1" font-size="8.2" text-anchor="end" fill="#1a1a1a">0</text>
<line x1="54.60" y1="704.74" x2="58.00" y2="704.74" stroke="#111" stroke-width="1.4"/>
<text x="51.0" y="707.94" font-size="8.2" text-anchor="end" fill="#1a1a1a">20</text>
<line x1="54.60" y1="682.58" x2="58.00" y2="682.58" stroke="#111" stroke-width="1.4"/>
<text x="51.0" y="685.78" font-size="8.2" text-anchor="end" fill="#1a1a1a">40</text>
<line x1="54.60" y1="660.42" x2="58.00" y2="660.42" stroke="#111" stroke-width="1.4"/>
<text x="51.0" y="663.62" font-size="8.2" text-anchor="end" fill="#1a1a1a">60</text>
<line x1="54.60" y1="638.26" x2="58.00" y2="638.26" stroke="#111" stroke-width="1.4"/>
<text x="51.0" y="641.46" font-size="8.2" text-anchor="end" fill="#1a1a1a">80</text>
<line x1="54.60" y1="616.10" x2="58.00" y2="616.10" stroke="#111" stroke-width="1.4"/>
<text x="51.0" y="619.3" font-size="8.2" text-anchor="end" fill="#1a1a1a">100</text>
<rect x="65.00" y="686.35" width="13.70" height="40.55" fill="#57286b" stroke="#1c1020" stroke-width="0.6"/>
<line x1="71.85" y1="686.35" x2="71.85" y2="680.03" stroke="#1a1a1a" stroke-width="1.5"/>
<line x1="68.08" y1="680.03" x2="75.62" y2="680.03" stroke="#1a1a1a" stroke-width="1.6"/>
<rect x="78.70" y="707.07" width="13.70" height="19.83" fill="#b8072b" stroke="#1c1020" stroke-width="0.6"/>
<line x1="85.55" y1="707.07" x2="85.55" y2="702.63" stroke="#1a1a1a" stroke-width="1.5"/>
<line x1="81.78" y1="702.63" x2="89.32" y2="702.63" stroke="#1a1a1a" stroke-width="1.6"/>
<circle cx="85.55" cy="696.93" r="1.3" fill="#1a1a1a"/>
<rect x="92.40" y="708.40" width="13.70" height="18.50" fill="#2f5286" stroke="#1c1020" stroke-width="0.6"/>
<line x1="99.25" y1="708.40" x2="99.25" y2="706.18" stroke="#1a1a1a" stroke-width="1.5"/>
<line x1="95.48" y1="706.18" x2="103.02" y2="706.18" stroke="#1a1a1a" stroke-width="1.6"/>
<circle cx="99.25" cy="700.48" r="1.3" fill="#1a1a1a"/>
<line x1="85.55" y1="726.90" x2="85.55" y2="730.20" stroke="#111" stroke-width="1.4"/>
<rect x="119.80" y="648.79" width="13.70" height="78.11" fill="#57286b" stroke="#1c1020" stroke-width="0.6"/>
<line x1="126.65" y1="648.79" x2="126.65" y2="645.91" stroke="#1a1a1a" stroke-width="1.5"/>
<line x1="122.88" y1="645.91" x2="130.42" y2="645.91" stroke="#1a1a1a" stroke-width="1.6"/>
<rect x="133.50" y="649.12" width="13.70" height="77.78" fill="#b8072b" stroke="#1c1020" stroke-width="0.6"/>
<line x1="140.35" y1="649.12" x2="140.35" y2="645.13" stroke="#1a1a1a" stroke-width="1.5"/>
<line x1="136.58" y1="645.13" x2="144.12" y2="645.13" stroke="#1a1a1a" stroke-width="1.6"/>
<rect x="147.20" y="654.88" width="13.70" height="72.02" fill="#2f5286" stroke="#1c1020" stroke-width="0.6"/>
<line x1="154.05" y1="654.88" x2="154.05" y2="646.79" stroke="#1a1a1a" stroke-width="1.5"/>
<line x1="150.28" y1="646.79" x2="157.82" y2="646.79" stroke="#1a1a1a" stroke-width="1.6"/>
<line x1="140.35" y1="726.90" x2="140.35" y2="730.20" stroke="#111" stroke-width="1.4"/>
<rect x="174.60" y="703.08" width="13.70" height="23.82" fill="#57286b" stroke="#1c1020" stroke-width="0.6"/>
<line x1="181.45" y1="703.08" x2="181.45" y2="701.42" stroke="#1a1a1a" stroke-width="1.5"/>
<line x1="177.68" y1="701.42" x2="185.22" y2="701.42" stroke="#1a1a1a" stroke-width="1.6"/>
<rect x="188.30" y="704.74" width="13.70" height="22.16" fill="#b8072b" stroke="#1c1020" stroke-width="0.6"/>
<line x1="195.15" y1="704.74" x2="195.15" y2="703.74" stroke="#1a1a1a" stroke-width="1.5"/>
<line x1="191.38" y1="703.74" x2="198.92" y2="703.74" stroke="#1a1a1a" stroke-width="1.6"/>
<rect x="202.00" y="708.17" width="13.70" height="18.73" fill="#2f5286" stroke="#1c1020" stroke-width="0.6"/>
<line x1="208.85" y1="708.17" x2="208.85" y2="705.40" stroke="#1a1a1a" stroke-width="1.5"/>
<line x1="205.08" y1="705.40" x2="212.62" y2="705.40" stroke="#1a1a1a" stroke-width="1.6"/>
<line x1="195.15" y1="726.90" x2="195.15" y2="730.20" stroke="#111" stroke-width="1.4"/>
<text x="85.55" y="741.1999999999999" font-size="8.8" text-anchor="middle" fill="#1a1a1a">2 μM</text>
<text x="85.55" y="750.8" font-size="8.8" text-anchor="middle" fill="#1a1a1a">ABT-737</text>
<text x="140.35" y="741.1999999999999" font-size="8.8" text-anchor="middle" fill="#1a1a1a">12 nM Bz</text>
<text x="195.14999999999998" y="741.1999999999999" font-size="8.8" text-anchor="middle" fill="#1a1a1a">2 μM ATO</text>
<text x="140" y="608.7" font-size="10.2" text-anchor="middle" fill="#1a1a1a">U266</text>
<text transform="translate(32.1,671.0) rotate(-90)" x="0" y="0" font-size="10.2" text-anchor="middle" textLength="96.8" lengthAdjust="spacingAndGlyphs" fill="#1a1a1a">Annexin V+ (% control)</text>
<line x1="286.00" y1="614.80" x2="286.00" y2="728.10" stroke="#1a1a1a" stroke-width="1.8"/>
<line x1="285.10" y1="727.20" x2="450.00" y2="727.20" stroke="#1a1a1a" stroke-width="1.8"/>
<line x1="282.60" y1="727.20" x2="286.00" y2="727.20" stroke="#111" stroke-width="1.4"/>
<text x="279.0" y="730.4000000000001" font-size="8.2" text-anchor="end" fill="#1a1a1a">0</text>
<line x1="282.60" y1="705.34" x2="286.00" y2="705.34" stroke="#111" stroke-width="1.4"/>
<text x="279.0" y="708.5400000000001" font-size="8.2" text-anchor="end" fill="#1a1a1a">20</text>
<line x1="282.60" y1="683.48" x2="286.00" y2="683.48" stroke="#111" stroke-width="1.4"/>
<text x="279.0" y="686.6800000000001" font-size="8.2" text-anchor="end" fill="#1a1a1a">40</text>
<line x1="282.60" y1="661.62" x2="286.00" y2="661.62" stroke="#111" stroke-width="1.4"/>
<text x="279.0" y="664.82" font-size="8.2" text-anchor="end" fill="#1a1a1a">60</text>
<line x1="282.60" y1="639.76" x2="286.00" y2="639.76" stroke="#111" stroke-width="1.4"/>
<text x="279.0" y="642.96" font-size="8.2" text-anchor="end" fill="#1a1a1a">80</text>
<line x1="282.60" y1="617.90" x2="286.00" y2="617.90" stroke="#111" stroke-width="1.4"/>
<text x="279.0" y="621.1000000000001" font-size="8.2" text-anchor="end" fill="#1a1a1a">100</text>
<rect x="296.40" y="649.92" width="20.30" height="77.28" fill="#57286b" stroke="#1c1020" stroke-width="0.6"/>
<line x1="306.55" y1="649.92" x2="306.55" y2="638.12" stroke="#1a1a1a" stroke-width="1.5"/>
<line x1="300.97" y1="638.12" x2="312.13" y2="638.12" stroke="#1a1a1a" stroke-width="1.6"/>
<rect x="316.70" y="694.30" width="20.30" height="32.90" fill="#b8072b" stroke="#1c1020" stroke-width="0.6"/>
<line x1="326.85" y1="694.30" x2="326.85" y2="680.75" stroke="#1a1a1a" stroke-width="1.5"/>
<line x1="321.27" y1="680.75" x2="332.43" y2="680.75" stroke="#1a1a1a" stroke-width="1.6"/>
<circle cx="326.85" cy="675.05" r="1.3" fill="#1a1a1a"/>
<rect x="337.00" y="689.60" width="20.30" height="37.60" fill="#2f5286" stroke="#1c1020" stroke-width="0.6"/>
<line x1="347.15" y1="689.60" x2="347.15" y2="668.40" stroke="#1a1a1a" stroke-width="1.5"/>
<line x1="341.57" y1="668.40" x2="352.73" y2="668.40" stroke="#1a1a1a" stroke-width="1.6"/>
<circle cx="347.15" cy="662.70" r="1.3" fill="#1a1a1a"/>
<line x1="326.85" y1="727.20" x2="326.85" y2="730.50" stroke="#111" stroke-width="1.4"/>
<rect x="377.60" y="664.02" width="20.30" height="63.18" fill="#57286b" stroke="#1c1020" stroke-width="0.6"/>
<line x1="387.75" y1="664.02" x2="387.75" y2="657.58" stroke="#1a1a1a" stroke-width="1.5"/>
<line x1="382.17" y1="657.58" x2="393.33" y2="657.58" stroke="#1a1a1a" stroke-width="1.6"/>
<rect x="397.90" y="701.19" width="20.30" height="26.01" fill="#b8072b" stroke="#1c1020" stroke-width="0.6"/>
<line x1="408.05" y1="701.19" x2="408.05" y2="698.89" stroke="#1a1a1a" stroke-width="1.5"/>
<line x1="402.47" y1="698.89" x2="413.63" y2="698.89" stroke="#1a1a1a" stroke-width="1.6"/>
<circle cx="403.95" cy="693.19" r="1.3" fill="#1a1a1a"/>
<circle cx="408.05" cy="693.19" r="1.3" fill="#1a1a1a"/>
<circle cx="412.15" cy="693.19" r="1.3" fill="#1a1a1a"/>
<rect x="418.20" y="701.19" width="20.30" height="26.01" fill="#2f5286" stroke="#1c1020" stroke-width="0.6"/>
<line x1="428.35" y1="701.19" x2="428.35" y2="695.50" stroke="#1a1a1a" stroke-width="1.5"/>
<line x1="422.77" y1="695.50" x2="433.93" y2="695.50" stroke="#1a1a1a" stroke-width="1.6"/>
<circle cx="426.30" cy="689.80" r="1.3" fill="#1a1a1a"/>
<circle cx="430.40" cy="689.80" r="1.3" fill="#1a1a1a"/>
<line x1="408.05" y1="727.20" x2="408.05" y2="730.50" stroke="#111" stroke-width="1.4"/>
<text x="326.84999999999997" y="741.5" font-size="8.8" text-anchor="middle" fill="#1a1a1a">200 nM ABT-199</text>
<text x="408.04999999999995" y="741.5" font-size="8.8" text-anchor="middle" fill="#1a1a1a">50 nM ABT-199</text>
<text x="326.4" y="609.2" font-size="10.2" text-anchor="middle" fill="#1a1a1a">KMS12BM</text>
<text transform="translate(259.2,671.0) rotate(-90)" x="0" y="0" font-size="10.2" text-anchor="middle" textLength="96.8" lengthAdjust="spacingAndGlyphs" fill="#1a1a1a">Annexin V+ (% control)</text>
<text x="407.7" y="609.2" font-size="10.2" text-anchor="middle" fill="#1a1a1a">OCI-My5</text>
<rect x="473.5" y="624.40" width="11.4" height="5.6" fill="#57286b" stroke="#1c1020" stroke-width="0.6"/>
<text x="488.1" y="630.1" font-size="8.2" fill="#1a1a1a">control</text>
<rect x="473.5" y="639.00" width="11.4" height="5.6" fill="#b8072b" stroke="#1c1020" stroke-width="0.6"/>
<text x="488.1" y="644.7" font-size="8.2" fill="#1a1a1a">CM</text>
<rect x="473.5" y="653.60" width="11.4" height="5.6" fill="#2f5286" stroke="#1c1020" stroke-width="0.6"/>
<text x="488.1" y="659.3000000000001" font-size="8.2" fill="#1a1a1a">Hs-5</text>
<rect x="0.00" y="0.00" width="520.00" height="1.20" fill="#000"/>
<rect x="0.00" y="0.00" width="1.30" height="761.00" fill="#000"/>
<rect x="518.30" y="0.00" width="1.70" height="761.00" fill="#000"/>
<rect x="0.00" y="759.10" width="520.00" height="1.90" fill="#000"/>
</svg>
</div>
</body></html>
